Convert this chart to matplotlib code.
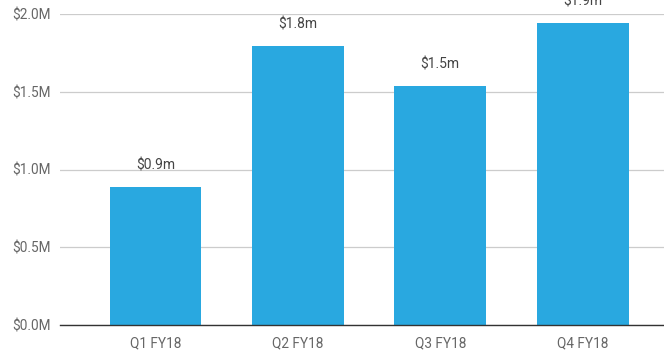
import matplotlib
matplotlib.use("Agg")
import matplotlib.pyplot as plt
from matplotlib.ticker import FuncFormatter

quarters = ["Q1 FY18", "Q2 FY18", "Q3 FY18", "Q4 FY18"]
revenue_m = [0.887, 1.794, 1.537, 1.942]
y_ticks = [0.0, 0.5, 1.0, 1.5, 2.0]

plt.rcParams["font.family"] = ["Roboto", "DejaVu Sans"]

W, H = 664, 350
fig = plt.figure(figsize=(W / 100, H / 100), dpi=100)
ax = fig.add_axes([60 / W, 25 / H, (W - 60) / W, 311 / H])

x = list(range(len(quarters)))
bars = ax.bar(x, revenue_m, width=0.645, color="#29a8e0", zorder=3)

for b, v in zip(bars, revenue_m):
    ax.annotate(f"${v:.1f}m", (b.get_x() + b.get_width() / 2, v),
                xytext=(0, 10.5), textcoords="offset points",
                ha="center", va="bottom", fontsize=10, color="#444444",
                annotation_clip=False, clip_on=False)

ax.set_ylim(0, 2.0)
ax.set_xlim(-0.671, 3.571)
ax.set_yticks(y_ticks)
ax.yaxis.set_major_formatter(FuncFormatter(lambda v, p: f"${v:.1f}M"))
ax.set_xticks(x)
ax.set_xticklabels(quarters)
ax.tick_params(axis="both", length=0, labelsize=9.8, labelcolor="#666666")
ax.tick_params(axis="y", pad=7)
ax.tick_params(axis="x", pad=8)
ax.grid(axis="y", color="#cccccc", linewidth=0.9, zorder=0)
for s in ["top", "right", "left"]:
    ax.spines[s].set_visible(False)
ax.spines["bottom"].set_color("#333333")
ax.spines["bottom"].set_linewidth(1.0)
ax.spines["bottom"].set_zorder(4)

fig.savefig("out.png", dpi=100)
